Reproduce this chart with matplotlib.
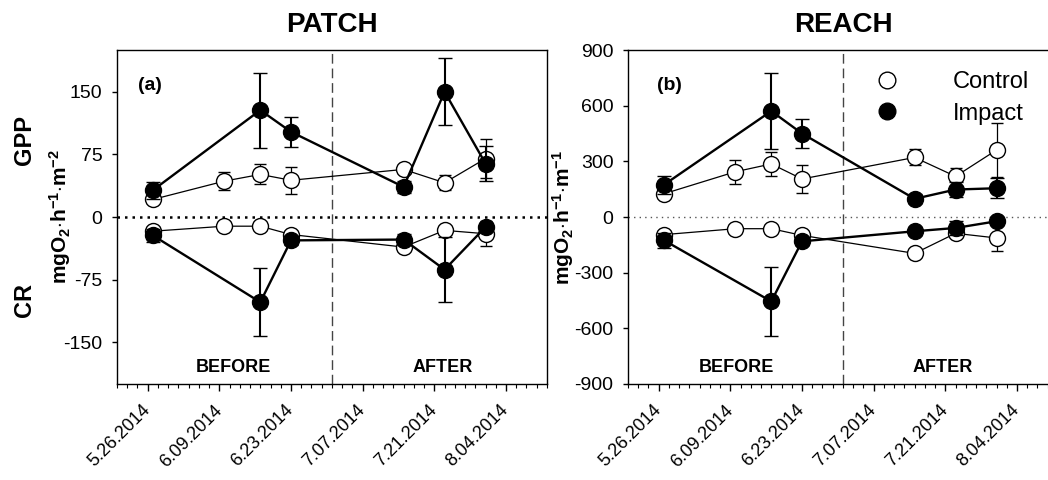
import datetime as dt

import matplotlib
matplotlib.use("Agg")
import matplotlib.pyplot as plt
import matplotlib.dates as mdates
from matplotlib.lines import Line2D
from matplotlib.ticker import FixedLocator, FuncFormatter

plt.rcParams['font.family'] = ['Liberation Sans', 'DejaVu Sans']
plt.rcParams['mathtext.fontset'] = 'custom'
plt.rcParams['mathtext.rm'] = 'Liberation Sans'
plt.rcParams['mathtext.bf'] = 'Liberation Sans:bold'
plt.rcParams['axes.unicode_minus'] = False

# sampling dates (impact sites were not sampled on 6.10)
controlDates = ['2014-05-27', '2014-06-10', '2014-06-17', '2014-06-23',
                '2014-07-15', '2014-07-23', '2014-07-31']
impactDates = ['2014-05-27', '2014-06-17', '2014-06-23',
               '2014-07-15', '2014-07-23', '2014-07-31']
treatmentDate = '2014-07-01'
tickDates = ['2014-05-26', '2014-06-09', '2014-06-23',
             '2014-07-07', '2014-07-21', '2014-08-04']

# PATCH, mgO2 h-1 m-2
patchCtrlGPP = [21, 43, 51, 44, 57, 41, 70]
patchCtrlGPPErr = [4, 11, 12, 16, 4, 9, 23]
patchCtrlCR = [-17, -11, -11, -21, -36, -16, -20]
patchCtrlCRErr = [4, 3, 3, 4, 4, 4, 15]
patchImpGPP = [32, 128, 102, 36, 150, 64]
patchImpGPPErr = [10, 45, 18, 7, 40, 21]
patchImpCR = [-22, -102, -28, -27, -63, -12]
patchImpCRErr = [8, 41, 5, 7, 39, 4]

# REACH, mgO2 h-1 m-1
reachCtrlGPP = [125, 244, 286, 205, 321, 219, 361]
reachCtrlGPPErr = [20, 65, 65, 73, 43, 45, 145]
reachCtrlCR = [-95, -63, -63, -99, -196, -88, -113]
reachCtrlCRErr = [15, 10, 10, 15, 15, 20, 70]
reachImpGPP = [173, 571, 450, 98, 148, 155]
reachImpGPPErr = [50, 203, 80, 25, 38, 53]
reachImpCR = [-125, -455, -131, -77, -59, -23]
reachImpCRErr = [40, 188, 20, 20, 38, 12]


def toDates(values):
    return [dt.datetime.strptime(v, '%Y-%m-%d') for v in values]


def dateLabel(x, pos):
    d = mdates.num2date(x)
    return f"{d.month}.{d.day:02d}.{d.year}"


def drawPanel(ax, ctrl, imp, ylim, yticks, zeroStyle):
    cDates = toDates(controlDates)
    iDates = toDates(impactDates)
    for vals, errs in ctrl:
        ax.errorbar(cDates, vals, yerr=errs, fmt='o-', color='black', lw=0.9,
                    ms=11.5, mfc='white', mec='black', mew=1.0,
                    elinewidth=0.9, capsize=4, capthick=0.9, zorder=3)
    for vals, errs in imp:
        ax.errorbar(iDates, vals, yerr=errs, fmt='o-', color='black', lw=1.7,
                    ms=11.5, mfc='black', mec='black', mew=1.0,
                    elinewidth=1.5, capsize=5, capthick=1.5, zorder=4)
    ax.axhline(0, color=zeroStyle[0], linestyle=(0, (1, zeroStyle[2])),
               lw=zeroStyle[1], zorder=1)
    ax.axvline(toDates([treatmentDate])[0], color='#444444',
               linestyle=(0, (7, 3.5)), lw=1.0, zorder=1)

    start = dt.datetime(2014, 5, 20)
    ax.set_xlim(start, dt.datetime(2014, 8, 12))
    ax.set_ylim(*ylim)
    ax.set_yticks(yticks)
    ax.xaxis.set_major_locator(FixedLocator(mdates.date2num(toDates(tickDates))))
    minor = [start + dt.timedelta(days=2 * k) for k in range(43)]
    ax.xaxis.set_minor_locator(FixedLocator(mdates.date2num(minor)))
    ax.xaxis.set_major_formatter(FuncFormatter(dateLabel))
    ax.tick_params(axis='x', which='major', length=5, width=1, pad=12)
    ax.tick_params(axis='x', which='minor', length=3, width=0.8)
    ax.tick_params(axis='y', length=3.5, width=1, labelsize=14, pad=7)
    for lab in ax.get_xticklabels():
        lab.set_rotation(45)
        lab.set_ha('right')
        lab.set_va('center')
        lab.set_rotation_mode('anchor')
        lab.set_fontsize(13)
    for sp in ax.spines.values():
        sp.set_linewidth(1.0)


fig = plt.figure(figsize=(10.48, 4.8), dpi=100)
axPatch = fig.add_axes([0.1116, 0.2, 0.4103, 0.6958])
axReach = fig.add_axes([0.5992, 0.2, 0.4103, 0.6958])

drawPanel(axPatch,
          [(patchCtrlGPP, patchCtrlGPPErr), (patchCtrlCR, patchCtrlCRErr)],
          [(patchImpGPP, patchImpGPPErr), (patchImpCR, patchImpCRErr)],
          (-200, 200), [-150, -75, 0, 75, 150], ('black', 1.8, 2.0))
drawPanel(axReach,
          [(reachCtrlGPP, reachCtrlGPPErr), (reachCtrlCR, reachCtrlCRErr)],
          [(reachImpGPP, reachImpGPPErr), (reachImpCR, reachImpCRErr)],
          (-900, 900), [-900, -600, -300, 0, 300, 600, 900], ('#555555', 1.0, 3.0))

axPatch.set_title('PATCH', fontsize=20, fontweight='bold', pad=13)
axReach.set_title('REACH', fontsize=20, fontweight='bold', pad=13)

axPatch.set_ylabel(r'$\mathbf{mgO_2{\cdot}h^{-1}{\cdot}m^{-2}}$', fontsize=15, va='center')
axPatch.yaxis.set_label_coords(-0.133, 0.5)
axReach.set_ylabel(r'$\mathbf{mgO_2{\cdot}h^{-1}{\cdot}m^{-1}}$', fontsize=15, va='center')
axReach.yaxis.set_label_coords(-0.152, 0.5)

fig.text(25 / 1048, 1 - 140 / 480, 'GPP', rotation=90, fontsize=17,
         fontweight='bold', ha='center', va='center')
fig.text(25 / 1048, 1 - 300 / 480, 'CR', rotation=90, fontsize=17,
         fontweight='bold', ha='center', va='center')

axPatch.text(0.05, 0.895, '(a)', transform=axPatch.transAxes, fontsize=14,
             fontweight='bold', va='center')
axReach.text(0.067, 0.895, '(b)', transform=axReach.transAxes, fontsize=14,
             fontweight='bold', va='center')

for ax, xb, xa in [(axPatch, 0.272, 0.758), (axReach, 0.253, 0.733)]:
    ax.text(xb, 0.048, 'BEFORE', transform=ax.transAxes, fontsize=13,
            fontweight='bold', ha='center', va='center')
    ax.text(xa, 0.048, 'AFTER', transform=ax.transAxes, fontsize=13,
            fontweight='bold', ha='center', va='center')

handles = [Line2D([], [], marker='o', ls='none', ms=12, mfc='white', mec='black', mew=1.0),
           Line2D([], [], marker='o', ls='none', ms=12, mfc='black', mec='black', mew=1.0)]
axReach.legend(handles, ['Control', 'Impact'], loc='upper left',
               bbox_to_anchor=(0.525, 0.965), frameon=False, fontsize=17,
               handletextpad=1.8, labelspacing=0.4, borderaxespad=0)

fig.savefig('out.png', dpi=100)
